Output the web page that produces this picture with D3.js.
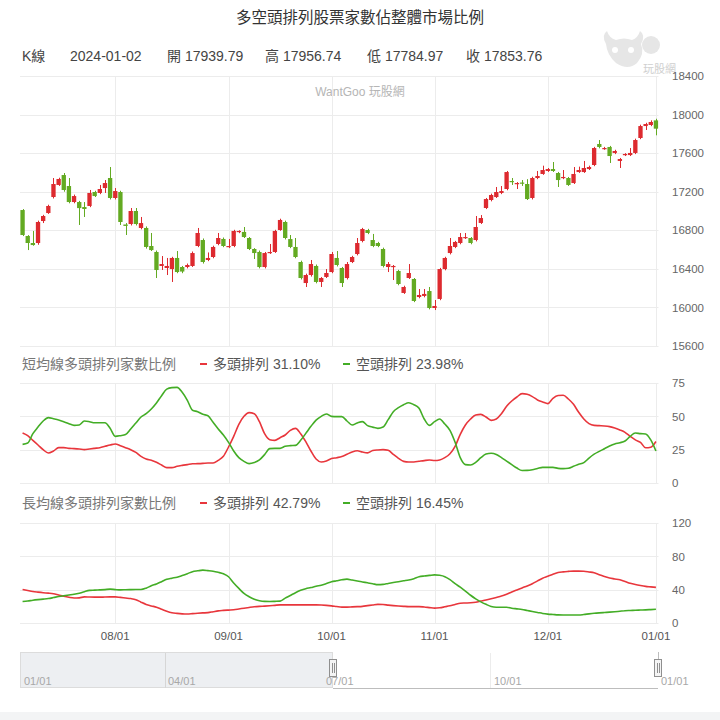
<!DOCTYPE html>
<html><head><meta charset="utf-8">
<script src="https://cdn.jsdelivr.net/npm/d3@7"></script>
<style>
html,body{margin:0;padding:0;background:#fff;}
svg{display:block;font-family:"Liberation Sans","Noto Sans CJK TC",Arial,sans-serif;}
</style></head>
<body>
<svg id="c" width="720" height="720"></svg>
<script>
// ---------- DATA ----------
const dates = [
"2023-07-06","2023-07-07","2023-07-10","2023-07-11","2023-07-12","2023-07-13","2023-07-14","2023-07-17","2023-07-18","2023-07-19","2023-07-20","2023-07-21","2023-07-24","2023-07-25","2023-07-26","2023-07-27","2023-07-28","2023-07-31",
"2023-08-01","2023-08-02","2023-08-04","2023-08-07","2023-08-08","2023-08-09","2023-08-10","2023-08-11","2023-08-14","2023-08-15","2023-08-16","2023-08-17","2023-08-18","2023-08-21","2023-08-22","2023-08-23","2023-08-24","2023-08-25","2023-08-28","2023-08-29","2023-08-30","2023-08-31",
"2023-09-01","2023-09-04","2023-09-05","2023-09-06","2023-09-07","2023-09-08","2023-09-11","2023-09-12","2023-09-13","2023-09-14","2023-09-15","2023-09-18","2023-09-19","2023-09-20","2023-09-21","2023-09-22","2023-09-25","2023-09-26","2023-09-27","2023-09-28",
"2023-10-02","2023-10-03","2023-10-04","2023-10-05","2023-10-06","2023-10-11","2023-10-12","2023-10-13","2023-10-16","2023-10-17","2023-10-18","2023-10-19","2023-10-20","2023-10-23","2023-10-24","2023-10-25","2023-10-26","2023-10-27","2023-10-30","2023-10-31",
"2023-11-01","2023-11-02","2023-11-03","2023-11-06","2023-11-07","2023-11-08","2023-11-09","2023-11-10","2023-11-13","2023-11-14","2023-11-15","2023-11-16","2023-11-17","2023-11-20","2023-11-21","2023-11-22","2023-11-23","2023-11-24","2023-11-27","2023-11-28","2023-11-29","2023-11-30",
"2023-12-01","2023-12-04","2023-12-05","2023-12-06","2023-12-07","2023-12-08","2023-12-11","2023-12-12","2023-12-13","2023-12-14","2023-12-15","2023-12-18","2023-12-19","2023-12-20","2023-12-21","2023-12-22","2023-12-25","2023-12-26","2023-12-27","2023-12-28","2023-12-29",
"2024-01-02"];

const openP = [17010,16741,16668,16668,16896,16979,17145,17270,17373,17259,17093,17093,17041,17052,17197,17187,17238,17342,17135,17197,16860,16865,17000,16824,16824,16637,16575,16430,16409,16398,16513,16419,16419,16430,16637,16699,16492,16523,16658,16710,16627,16637,16783,16783,16720,16606,16575,16419,16564,16575,16803,16886,16709,16627,16471,16253,16336,16430,16264,16316,16367,16513,16409,16305,16471,16554,16689,16803,16699,16668,16606,16419,16419,16378,16150,16305,16295,16108,16119,16170,15994,16088,16398,16564,16627,16668,16720,16720,16699,16876,17031,17114,17145,17187,17228,17311,17280,17295,17280,17135,17342,17384,17415,17435,17394,17342,17342,17290,17404,17404,17435,17477,17695,17643,17664,17602,17519,17580,17580,17602,17757,17881,17892,17939.79];
const highP = [17020,16750,16793,16900,16960,17065,17342,17345,17394,17342,17170,17105,17093,17218,17210,17270,17321,17456,17238,17210,16875,17031,17031,16938,16840,16772,16590,16533,16513,16525,16585,16430,16455,16580,16824,16715,16570,16640,16772,16725,16710,16805,16800,16834,16730,16615,16590,16575,16658,16805,16920,16900,16751,16720,16485,16350,16492,16445,16315,16398,16575,16585,16420,16471,16535,16720,16825,16815,16762,16680,16620,16471,16440,16390,16225,16450,16305,16191,16191,16212,16077,16410,16525,16720,16690,16772,16772,16730,16948,16958,17135,17180,17249,17259,17415,17342,17300,17321,17330,17355,17415,17470,17446,17508,17405,17425,17353,17456,17460,17519,17470,17665,17736,17665,17675,17635,17550,17600,17653,17750,17895,17915,17940,17956.74];
const lowP = [16740,16595,16640,16650,16875,16970,17130,17260,17200,17080,17080,16855,16938,17040,17145,17175,17187,17120,17120,16855,16751,16850,16850,16810,16610,16585,16305,16388,16336,16264,16355,16355,16405,16420,16625,16455,16480,16510,16645,16625,16615,16625,16770,16720,16595,16502,16405,16405,16555,16565,16795,16705,16615,16510,16290,16212,16320,16250,16212,16305,16355,16425,16212,16290,16460,16540,16675,16760,16625,16625,16415,16367,16284,16230,16140,16295,16055,16095,16105,15980,15973,16075,16385,16550,16615,16655,16710,16655,16685,16865,17020,17100,17135,17175,17215,17270,17228,17260,17114,17120,17330,17375,17405,17405,17249,17330,17260,17280,17395,17395,17425,17465,17650,17635,17498,17590,17446,17570,17570,17590,17745,17840,17880,17784.97];
const closeP = [16751,16668,16647,16886,16948,17052,17280,17332,17218,17093,17155,17030,17021,17187,17155,17228,17290,17135,17207,16886,16845,17000,16865,16875,16627,16595,16388,16450,16430,16513,16367,16372,16440,16564,16772,16471,16513,16627,16720,16637,16637,16793,16793,16730,16606,16564,16419,16564,16575,16793,16907,16720,16627,16523,16305,16336,16450,16264,16305,16357,16554,16440,16253,16450,16523,16668,16813,16772,16637,16637,16430,16450,16430,16243,16212,16357,16067,16129,16140,15994,16015,16398,16513,16637,16679,16730,16730,16668,16834,16927,17124,17166,17197,17207,17404,17300,17290,17285,17124,17342,17363,17425,17435,17415,17321,17353,17270,17384,17425,17446,17456,17653,17664,17653,17570,17622,17539,17591,17602,17736,17881,17902,17923,17853.76];

const shortBull = [37.5,35.5,32,28.5,25,22.5,24,26.5,26.5,26,25.8,25.5,25,25.5,26,26.5,27.5,28.5,29.3,28,26.5,25,23,20,18,17,15.5,13.5,11.5,11.5,12.5,13.2,13.8,14.4,14.5,14.7,15,15,17,20,27,35,44,50,52.8,52,46,37,32.5,32,34,36,39.5,41,37,31,24,18,15.8,16.5,18.3,19,19.8,21.5,23.3,24.2,23.2,22.6,24.3,24.8,25,24.5,21.5,18.5,16.2,15.8,15.8,16.3,16.8,17.2,16.9,17.3,19,22,27.5,36.5,43.5,48,51,51.5,49.5,47,48,52,57.5,61.5,64.5,67,66.5,64.8,62.3,60.8,59.5,63.5,65.6,65.8,63,59,53,48,44.5,43.2,43,42.8,42.3,41.2,39.8,38,35,32.3,30.5,26.4,26.8,31.1];
const shortBear = [29,30,37,42,46.5,49,48.2,47.3,46,44.5,43.2,43.5,46.5,46,45.2,45.2,45.2,41,35,35.5,36.3,40.5,45,49.5,52,55.5,60,65.5,70.4,71.5,71.7,68,62,54.5,53.5,51.5,50.5,45.5,40.5,36,30.5,24,19,16.2,14.5,15.3,17.3,21.3,25.8,26,26,27.5,28,28.2,32,37.2,42.5,47.2,50,51.8,50,49.8,49.8,46.5,43.5,45,46,43,41.9,41,42,47.5,53.5,56.5,58.7,60.2,58.7,56,48,43.2,46,48,44.2,39.5,30.5,19,13.8,13.5,15.5,19,21.7,22.3,21.4,19,16.4,13.8,11.2,9.4,9.5,10,10.9,11.7,11.7,11.7,11,10.8,11.1,12.5,14.1,15.3,18.7,21.6,23.7,25.7,27.7,29.3,30.2,31.5,35,37.5,37,36.8,32.3,23.98];
const longBull = [40.3,39,37.8,37,36.3,35.8,35.1,33.5,32,30.8,30,30.2,31.3,31.2,31.1,31,31.2,31.3,31.3,30.7,30,29.3,28,25,22.3,20.5,19,16.5,14,12.2,11.5,11,10.8,11.2,11.7,12.1,12.4,13.5,14.6,15.1,15.5,15.9,16.8,17.8,18.7,19.5,20,20.3,20.7,21.2,21.7,21.7,21.7,21.7,21.7,21.7,21.7,21.7,21.6,21.2,20.6,19.8,19.1,19,19.3,19.6,20,20.8,21.6,22.3,22.2,21.5,20.9,20.4,20,19.7,19.7,19.7,19.2,18.5,17.8,18.3,19.4,20.6,22.2,23.7,24,24.3,25,26.3,27.6,29.1,30.7,32.3,34.5,37.2,39.6,42.1,44.5,47.2,50.5,53.8,56,58.4,60.6,61.4,61.9,62.3,62.3,62.1,61.3,60.3,58,55.7,54,52.9,51.8,49.8,47.7,46.2,45,44,43.4,42.79];
const longBear = [25.8,26.4,27.3,28,28.6,29.3,30.5,31.8,32.8,33.6,34.4,35.7,37.6,39.1,39.4,39.7,40.1,40.6,40.1,39.7,39.9,40.1,40.2,40.2,41.8,44.7,46.8,49.6,52.5,53.8,55,57,59.2,61.6,62.6,63.4,62.9,62.2,60.8,59,55.5,48,41.5,35.5,31.5,28.4,26.7,25.9,25.8,26,26.3,29.8,33,36.4,39.2,41.2,42.5,44.2,45.4,47.3,49.4,50.6,51.8,52.6,51.5,50.4,49.3,48.2,47.1,46,46.3,47.5,48.6,49.6,50.6,51.6,53.2,55.4,56.4,57.1,57.8,57.2,55.6,52,47.2,43,38.3,33.3,29,25.4,22.4,19.8,18.9,18.9,18.9,17.8,17,16.2,15,13.8,12.7,11.5,10.7,10.2,9.7,9.6,9.6,9.6,9.6,10.2,11,11.7,12.2,12.6,13,13.5,14.1,14.7,15,15.3,15.6,15.8,16.1,16.45];

const priceTicks = [15600,16000,16400,16800,17200,17600,18000,18400];
const shortTicks = [0,25,50,75];
const longTicks = [0,40,80,120];
const monthTickDates = ["2023-08-01","2023-09-01","2023-10-02","2023-11-01","2023-12-01","2024-01-02"];
const monthTickLabels = ["08/01","09/01","10/01","11/01","12/01","01/01"];
const navLabels = ["01/01","04/01","07/01","10/01","01/01"];

const titleText = "多空頭排列股票家數佔整體市場比例";
const headerItems = ["K線","2024-01-02","開 17939.79","高 17956.74","低 17784.97","收 17853.76"];
const shortTitle = "短均線多頭排列家數比例";
const longTitle = "長均線多頭排列家數比例";
const bullName = "多頭排列", bearName = "空頭排列";

// ---------- DRAW ----------
const RED = "#dd2a2f", GREEN = "#63aa22";
const LRED = "#e8363c", LGREEN = "#43ad26";
const svg = d3.select("#c");
const L = 20, R = 658.5;

const x = d3.scaleBand().domain(dates).range([L, R]).paddingInner(0.16).paddingOuter(0.08);
const cx = d => x(d) + x.bandwidth()/2;

const yP = d3.scaleLinear().domain([15600,18400]).range([346,76]);
const yS = d3.scaleLinear().domain([0,75]).range([483,383]);
const yLg = d3.scaleLinear().domain([0,120]).range([623,523]);

// title
svg.append("text").attr("x",360).attr("y",23).attr("text-anchor","middle")
  .attr("font-size",15.5).attr("fill","#333").text(titleText);

// header
const hx = [22,70,167,265,367,466];
headerItems.forEach((t,i)=>svg.append("text").attr("x",hx[i]).attr("y",61)
  .attr("font-size",14).attr("fill","#444").text(t));

// logo (faded)
const logo = svg.append("g");
logo.append("path").attr("d","M606,44 q-5,-9 1,-13 q2,7 9,9 q8,-3 16,0 q6,-2 8,-9 q6,4 1,13 q4,10 -4,19 q-9,8 -21,0 q-9,-8 -10,-19z")
  .attr("fill","#e6e6e6");
logo.append("circle").attr("cx",651).attr("cy",45).attr("r",9).attr("fill","#e6e6e6");
logo.append("circle").attr("cx",615).attr("cy",50).attr("r",3).attr("fill","#fff");
logo.append("circle").attr("cx",631).attr("cy",50).attr("r",3).attr("fill","#fff");
logo.append("text").attr("x",643).attr("y",73).attr("font-size",11).attr("fill","#cfcfcf").text("玩股網");

// watermark
svg.append("text").attr("x",360).attr("y",96).attr("text-anchor","middle")
  .attr("font-size",12).attr("fill","#b5b5b5").text("WantGoo 玩股網");

// horizontal grid
const grid = svg.append("g").attr("stroke","#ececec").attr("stroke-width",1);
function hgrid(scale, ticks){
  ticks.forEach(t=>grid.append("line").attr("x1",L).attr("x2",R)
    .attr("y1",Math.round(scale(t))+0.5).attr("y2",Math.round(scale(t))+0.5));
}
hgrid(yP, priceTicks); hgrid(yS, shortTicks); hgrid(yLg, longTicks);
// vertical grid
monthTickDates.forEach(d=>{
  const xx = Math.round(cx(d))+0.5;
  [[76,346],[383,483],[523,623]].forEach(([a,b])=>grid.append("line")
    .attr("x1",xx).attr("x2",xx).attr("y1",a).attr("y2",b));
});

// y axis labels (right)
function yLabels(scale, ticks){
  const ax = d3.axisRight(scale).tickValues(ticks).tickSize(0).tickPadding(0).tickFormat(d3.format("d"));
  const g = svg.append("g").attr("transform","translate(672,0)").call(ax);
  g.select(".domain").remove();
  g.selectAll("text").attr("font-size",11.5).attr("fill","#666")
    .attr("font-family","Liberation Sans, Arial, sans-serif");
}
yLabels(yP, priceTicks); yLabels(yS, shortTicks); yLabels(yLg, longTicks);

// candles
const cg = svg.append("g");
dates.forEach((d,i)=>{
  const up = closeP[i] >= openP[i];
  const col = up ? RED : GREEN;
  const xc = Math.round(cx(d)) + 0.5;
  cg.append("line").attr("x1",xc).attr("x2",xc)
    .attr("y1",yP(highP[i])).attr("y2",yP(lowP[i])).attr("stroke",col).attr("stroke-width",1);
  const top = yP(Math.max(openP[i],closeP[i])), bot = yP(Math.min(openP[i],closeP[i]));
  cg.append("rect").attr("x",x(d)).attr("width",x.bandwidth())
    .attr("y",top).attr("height",Math.max(1.2,bot-top)).attr("fill",col);
});

// lines
function drawLine(scale, vals, color){
  const line = d3.line().x((v,i)=>cx(dates[i])).y(v=>scale(v)).curve(d3.curveMonotoneX);
  svg.append("path").datum(vals).attr("d",line).attr("fill","none")
    .attr("stroke",color).attr("stroke-width",1.6);
}
drawLine(yS, shortBull, LRED); drawLine(yS, shortBear, LGREEN);
drawLine(yLg, longBull, LRED); drawLine(yLg, longBear, LGREEN);

// legends
function legend(y, title, bullV, bearV){
  svg.append("text").attr("x",22).attr("y",y).attr("font-size",14).attr("fill","#777").text(title);
  svg.append("line").attr("x1",200).attr("x2",207).attr("y1",y-5).attr("y2",y-5).attr("stroke",LRED).attr("stroke-width",2);
  svg.append("text").attr("x",213).attr("y",y).attr("font-size",14).attr("fill","#555").text(bullName+" "+bullV.toFixed(2)+"%");
  svg.append("line").attr("x1",343).attr("x2",350).attr("y1",y-5).attr("y2",y-5).attr("stroke",LGREEN).attr("stroke-width",2);
  svg.append("text").attr("x",356).attr("y",y).attr("font-size",14).attr("fill","#555").text(bearName+" "+bearV.toFixed(2)+"%");
}
legend(369, shortTitle, shortBull[shortBull.length-1], shortBear[shortBear.length-1]);
legend(508, longTitle, longBull[longBull.length-1], longBear[longBear.length-1]);

// x axis
const xAxis = d3.axisBottom(x).tickValues(monthTickDates).tickSize(0).tickPadding(0)
  .tickFormat(d=>monthTickLabels[monthTickDates.indexOf(d)]);
const xg = svg.append("g").attr("transform","translate(0,632)").call(xAxis);
xg.select(".domain").remove();
xg.selectAll("text").attr("font-size",11.5).attr("fill","#555")
  .attr("font-family","Liberation Sans, Arial, sans-serif");

// navigator
const nav = svg.append("g");
nav.append("rect").attr("x",20.5).attr("y",652.5).attr("width",312).attr("height",35)
  .attr("fill","#edeff2").attr("stroke","#dcdcdc");
nav.append("line").attr("x1",165.5).attr("x2",165.5).attr("y1",653).attr("y2",688).attr("stroke","#d6d6d6");
nav.append("line").attr("x1",490.5).attr("x2",490.5).attr("y1",653).attr("y2",688).attr("stroke","#ececec");
nav.append("line").attr("x1",333).attr("x2",658).attr("y1",688.5).attr("y2",688.5).attr("stroke","#bdbdbd");
nav.append("line").attr("x1",658.5).attr("x2",658.5).attr("y1",652).attr("y2",660).attr("stroke","#bdbdbd");
const navX = [24,168,326,494,661];
navLabels.forEach((t,i)=>nav.append("text").attr("x",navX[i]).attr("y",685)
  .attr("font-size",11).attr("fill","#a8a8a8").text(t));
[333,658].forEach(hx0=>{
  nav.append("rect").attr("x",hx0-3.5).attr("y",659.5).attr("width",7).attr("height",17)
    .attr("fill","#f4f4f4").attr("stroke","#8f8f8f");
  [-1,1].forEach(o=>nav.append("line").attr("x1",hx0+o+0.5).attr("x2",hx0+o+0.5)
    .attr("y1",663).attr("y2",673).attr("stroke","#8f8f8f"));
});
svg.append("rect").attr("x",0).attr("y",712).attr("width",720).attr("height",8).attr("fill","#f3f4f5");
</script>
</body></html>
